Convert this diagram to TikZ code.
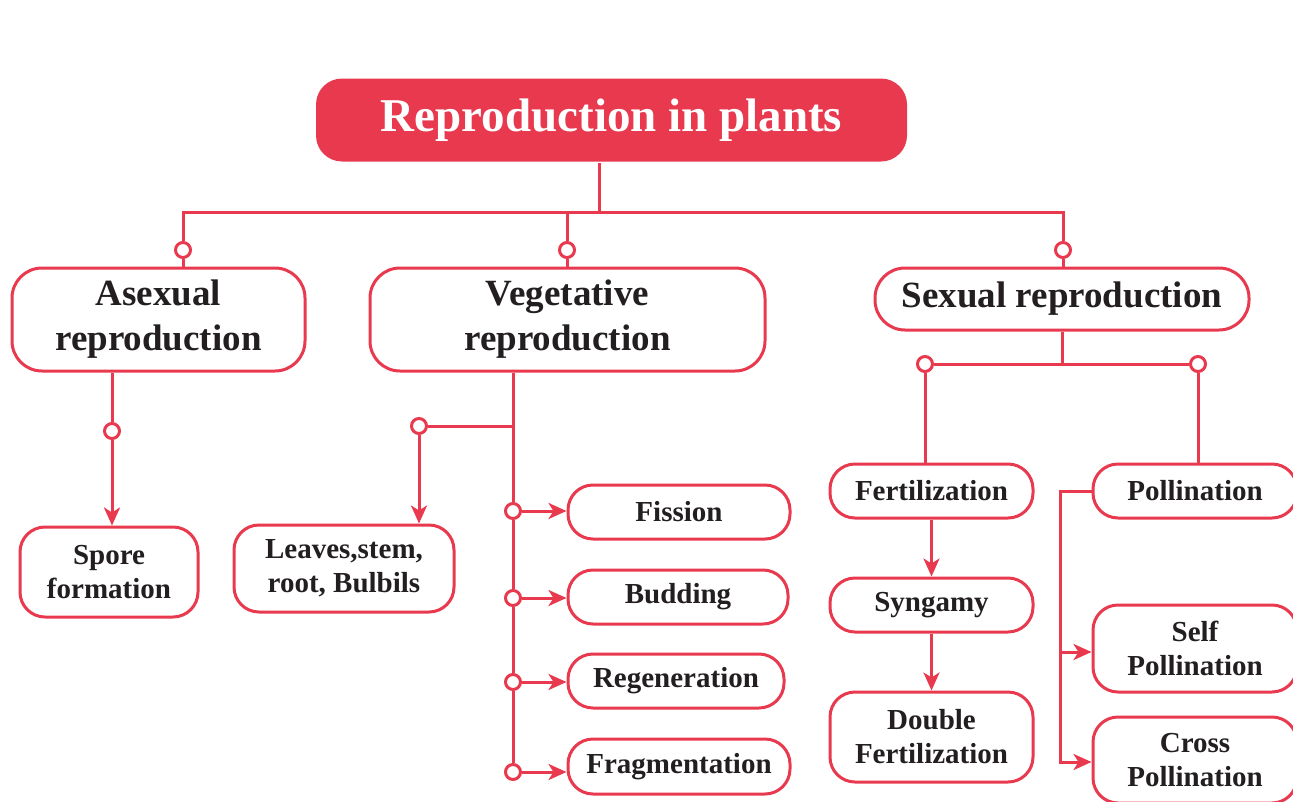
\documentclass[tikz,border=0pt]{standalone}
\usepackage{fontspec}
\setmainfont{Liberation Serif}
\usepackage{tikz}
\usetikzlibrary{arrows.meta,positioning}
\definecolor{redline}{HTML}{E8394F}
\definecolor{inkdark}{HTML}{231F20}

\begin{document}
\begin{tikzpicture}
[x=1pt,y=-1pt,->,>={Stealth[length=18pt,width=16pt,inset=5pt]},line width=3pt,draw=redline,
  title node/.style={rectangle,rounded corners=26pt,fill=redline,text=white,
    font=\fontsize{47}{52}\selectfont\bfseries,minimum width=591pt,minimum height=83pt},
  main box/.style={rectangle,rounded corners=30pt,draw=redline,fill=white,text=inkdark,
    align=center,font=\fontsize{37}{45}\selectfont\bfseries},
  leaf box/.style={rectangle,rounded corners=25pt,draw=redline,fill=white,text=inkdark,
    align=center,font=\fontsize{29}{34}\selectfont\bfseries},
  joint/.style={circle,draw=redline,fill=white,line width=3pt,minimum size=15pt,inner sep=0pt}]

  \useasboundingbox (0,0) rectangle (1293,801);

  % boxes
  \node [title node] (title) at (611.5,120) {Reproduction in plants};
  \node [main box,minimum width=293pt,minimum height=103pt] (asexual) at (158.5,319.5) {Asexual\\reproduction};
  \node [main box,minimum width=395pt,minimum height=103pt] (vegetative) at (567.5,319.5) {Vegetative\\reproduction};
  \node [main box,minimum width=374pt,minimum height=62pt] (sexual) at (1062,299) {Sexual reproduction};
  \node [leaf box,minimum width=178pt,minimum height=90pt] (spore) at (109,572) {Spore\\formation};
  \node [leaf box,minimum width=220pt,minimum height=87pt] (leaves) at (344,568.5) {Leaves,stem,\\root, Bulbils};
  \node [leaf box,minimum width=222pt,minimum height=54pt] (fission) at (679,512) {Fission};
  \node [leaf box,minimum width=220pt,minimum height=54pt] (budding) at (678,597) {Budding};
  \node [leaf box,minimum width=216pt,minimum height=54pt] (regeneration) at (676,681) {Regeneration};
  \node [leaf box,minimum width=222pt,minimum height=55pt] (fragmentation) at (679,766.5) {Fragmentation};
  \node [leaf box,minimum width=203pt,minimum height=54pt] (fertilization) at (931.5,491) {Fertilization};
  \node [leaf box,minimum width=204pt,minimum height=54pt] (pollination) at (1195,491) {Pollination};
  \node [leaf box,minimum width=203pt,minimum height=54pt] (syngamy) at (931.5,605) {Syngamy};
  \node [leaf box,minimum width=203pt,minimum height=90pt] (double) at (931.5,737) {Double\\Fertilization};
  \node [leaf box,minimum width=204pt,minimum height=87pt] (self) at (1195,648.5) {Self\\Pollination};
  \node [leaf box,minimum width=204pt,minimum height=86pt] (cross) at (1195,760) {Cross\\Pollination};

  % junctions
  \coordinate (top) at (599,212);
  \coordinate (vjoin) at (513,426);
  \coordinate (sjoin) at (1062,364);
  \coordinate (pjoin) at (1060,652);
  \coordinate (pend) at (1060,762);

  \node [joint] (ta) at (183,250) {};
  \node [joint] (tv) at (567,250) {};
  \node [joint] (ts) at (1063,250) {};
  \node [joint] (aj) at (112,431) {};
  \node [joint] (lj) at (419,426) {};
  \node [joint] (v1) at (513,511) {};
  \node [joint] (v2) at (513,598) {};
  \node [joint] (v3) at (513,682) {};
  \node [joint] (v4) at (513,772) {};
  \node [joint] (fj) at (925,364) {};
  \node [joint] (pj) at (1198,364) {};

  % plain lines
  \draw [-] (title.south -| top) -- (top);
  \draw [-] (ta.north) |- (top) -| (ts.north);
  \draw [-] (tv.north) -- (tv |- top);
  \foreach \from/\to in {ta/asexual,tv/vegetative,ts/sexual}
    \draw [-] (\from.south) -- (\from |- \to.north);
  \draw [-] (asexual.south -| aj) -- (aj.north);
  \draw [-] (vegetative.south -| v1) -- (v1.north);
  \foreach \from/\to in {v1/v2,v2/v3,v3/v4}
    \draw [-] (\from.south) -- (\to.north);
  \draw [-] (vjoin) -- (lj.east);
  \draw [-] (sexual.south -| sjoin) -- (sjoin);
  \draw [-] (fj.east) -- (pj.west);
  \foreach \from/\to in {fj/fertilization,pj/pollination}
    \draw [-] (\from.south) -- (\from |- \to.north);

  % arrows
  \draw (aj.south) -- (aj |- spore.north);
  \draw (lj.south) -- (lj |- leaves.north);
  \foreach \from/\to in {v1/fission,v2/budding,v3/regeneration,v4/fragmentation}
    \draw (\from.east) -- (\from -| \to.west);
  \draw (fertilization) -- (syngamy);
  \draw (syngamy) -- (double);
  \draw (pollination.west) -| (pend) -- (pend -| cross.west);
  \draw (pjoin) -- (pjoin -| self.west);

\end{tikzpicture}
\end{document}
